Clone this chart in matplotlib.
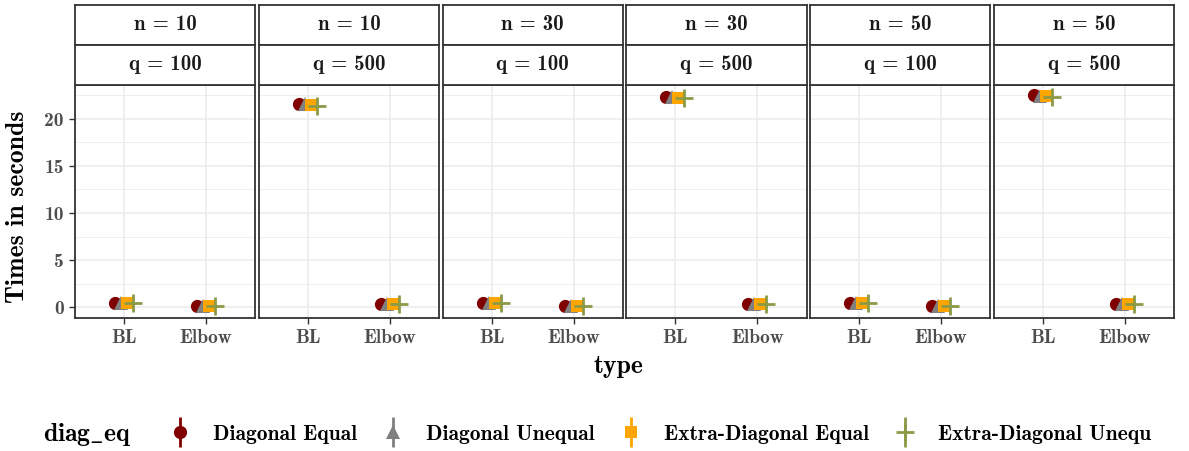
import matplotlib
matplotlib.use("Agg")
import matplotlib.pyplot as plt
from matplotlib.lines import Line2D
from matplotlib.legend_handler import HandlerTuple
import numpy as np

plt.rcParams["font.family"] = ["cmb10", "DejaVu Serif"]
plt.rcParams["font.weight"] = "bold"
plt.rcParams["mathtext.fontset"] = "cm"

# facets
n_vals = [10, 10, 30, 30, 50, 50]
q_vals = [100, 500, 100, 500, 100, 500]
types = ["BL", "Elbow"]
groups = ["Diagonal Equal", "Diagonal Unequal", "Extra-Diagonal Equal", "Extra-Diagonal Unequ"]

# mean time (seconds), per facet -> [BL, Elbow] for each group
times = [
    [[0.45, 0.08], [0.48, 0.10], [0.45, 0.10], [0.44, 0.09]],
    [[21.6, 0.35], [21.6, 0.36], [21.5, 0.36], [21.4, 0.35]],
    [[0.45, 0.08], [0.48, 0.10], [0.45, 0.10], [0.44, 0.09]],
    [[22.3, 0.35], [22.3, 0.36], [22.2, 0.36], [22.2, 0.35]],
    [[0.45, 0.08], [0.48, 0.10], [0.45, 0.10], [0.44, 0.09]],
    [[22.5, 0.35], [22.4, 0.36], [22.4, 0.36], [22.3, 0.35]],
]
# error half-widths
errs = [0.06, 0.06, 0.06, 0.06]

colors = ["#800000", "#808080", "#FFA500", "#8B9A46"]
markers = ["o", "^", "s", "+"]
msizes = [9.5, 10, 9, 13]
offsets = [-0.11, -0.037, 0.037, 0.11]

W, H = 1189, 451
fig = plt.figure(figsize=(W / 100, H / 100), dpi=100)

def px(x0, y0, x1, y1):
    return [x0 / W, 1 - y1 / H, (x1 - x0) / W, (y1 - y0) / H]

left0, right_end, gap = 75, 1174, 3.5
pw = (right_end - left0 - 5 * gap) / 6
edge = "#333333"

for i in range(6):
    xl = left0 + i * (pw + gap)
    ax = fig.add_axes(px(xl, 85, xl + pw, 318))
    ax.set_xlim(0.4, 2.6)
    ax.set_ylim(-1.15, 23.6)
    ax.set_yticks([0, 5, 10, 15, 20])
    ax.set_yticks([2.5, 7.5, 12.5, 17.5, 22.5], minor=True)
    ax.grid(True, which="major", color="#EBEBEB", lw=1.1)
    ax.grid(True, which="minor", color="#EBEBEB", lw=0.6, axis="y")
    ax.tick_params(which="minor", length=0)
    ax.set_axisbelow(True)
    ax.set_xticks([1, 2])
    ax.set_xticklabels(types)
    ax.tick_params(axis="both", colors=edge, labelcolor="#4D4D4D",
                   labelsize=14, length=4, width=1, pad=4)
    if i > 0:
        ax.tick_params(axis="y", length=0, labelleft=False)
    for s in ax.spines.values():
        s.set_color(edge)
        s.set_linewidth(1.3)
    for g in range(4):
        xs = np.arange(1, 3) + offsets[g]
        ys = times[i][g]
        ax.errorbar(xs, ys, yerr=errs[g], fmt="none", ecolor=colors[g], lw=1.5)
        ax.plot(xs, ys, linestyle="none", marker=markers[g], color=colors[g],
                markersize=msizes[g], markeredgewidth=2 if markers[g] == "+" else 0)
    # strips
    for txt, y0 in [(f"n = {n_vals[i]}", 5), (f"q = {q_vals[i]}", 45)]:
        sax = fig.add_axes(px(xl, y0, xl + pw, y0 + 40))
        sax.set_xticks([])
        sax.set_yticks([])
        for s in sax.spines.values():
            s.set_color(edge)
            s.set_linewidth(1.3)
        sax.text(0.5, 0.5, txt, ha="center", va="center", fontsize=15,
                 color="#1A1A1A", transform=sax.transAxes)

fig.text(18 / W, 1 - 207 / H, "Times in seconds", rotation=90, ha="center",
         va="center", fontsize=18.5)
fig.text(618 / W, 1 - 366 / H, "type", ha="center", va="center", fontsize=18.5)

# legend
fig.text(43 / W, 1 - 434 / H, r"$\mathbf{diag\_eq}$", ha="left", va="center",
         fontsize=18.5)
handles = []
for g in range(4):
    bar = Line2D([], [], linestyle="none", marker="|", markersize=22,
                 markeredgewidth=2, color=colors[g])
    pt = Line2D([], [], linestyle="none", marker=markers[g], color=colors[g],
                markersize=msizes[g], markeredgewidth=2 if markers[g] == "+" else 0)
    handles.append((bar, pt))
leg = fig.legend(handles, groups, loc="center left",
                 bbox_to_anchor=(166 / W, 1 - 434 / H), ncol=4, frameon=False,
                 fontsize=15.5, handler_map={tuple: HandlerTuple(ndivide=1)},
                 handlelength=1.3, handletextpad=0.9, columnspacing=1.0,
                 borderaxespad=0, borderpad=0)

fig.savefig("out.png", dpi=100)
